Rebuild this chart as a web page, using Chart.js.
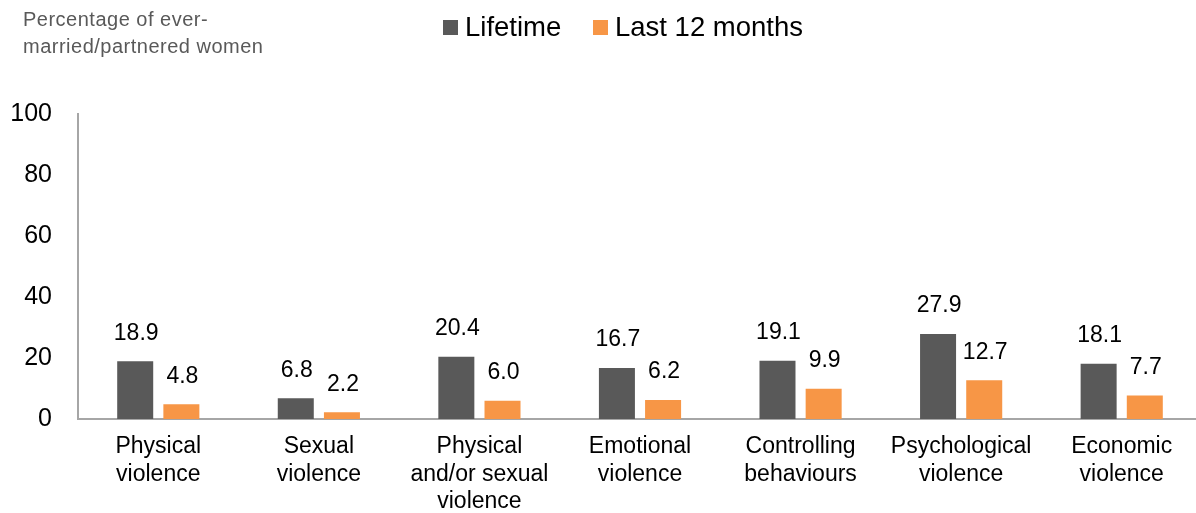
<!DOCTYPE html>
<html>
<head>
<meta charset="utf-8">
<script src="https://cdn.jsdelivr.net/npm/chart.js@4.4.1/dist/chart.umd.min.js"></script>
<style>
  html, body { margin: 0; padding: 0; background: #fff; overflow: hidden; }
  #wrap { position: relative; width: 1202px; height: 513px; }
  #title { position: absolute; left: 23px; top: 6px; font: 20px "Liberation Sans", Arial, sans-serif; letter-spacing: 0.5px; color: #595959; line-height: 27px; }
  .leg { position: absolute; top: 10px; font: 27.5px "Liberation Sans", Arial, sans-serif; color: #000; line-height: 34px; }
  .sw { position: absolute; width: 15px; height: 15px; top: 10px; }
</style>
</head>
<body>
<div id="wrap">
  <canvas id="c"></canvas>
  <div id="title">Percentage of ever-<br>married/partnered women</div>
  <div class="sw" style="left:443px; top:20px; background:#595959;"></div>
  <div class="leg" style="left:465px;">Lifetime</div>
  <div class="sw" style="left:593px; top:20px; background:#F79646;"></div>
  <div class="leg" style="left:615px;">Last 12 months</div>
</div>
<script>
const categories = [
  ["Physical", "violence"],
  ["Sexual", "violence"],
  ["Physical", "and/or sexual", "violence"],
  ["Emotional", "violence"],
  ["Controlling", "behaviours"],
  ["Psychological", "violence"],
  ["Economic", "violence"]
];
const lifetime = [18.9, 6.8, 20.4, 16.7, 19.1, 27.9, 18.1];
const last12 = [4.8, 2.2, 6.0, 6.2, 9.9, 12.7, 7.7];
const yTicks = [0, 20, 40, 60, 80, 100];

const FONT = "'Liberation Sans', Arial, sans-serif";

const valueLabels = {
  id: 'valueLabels',
  afterDatasetsDraw(chart) {
    const ctx = chart.ctx;
    ctx.save();
    ctx.font = '23px ' + FONT;
    ctx.fillStyle = '#000';
    ctx.textAlign = 'center';
    ctx.textBaseline = 'middle';
    chart.data.datasets.forEach((ds, i) => {
      const meta = chart.getDatasetMeta(i);
      meta.data.forEach((bar, j) => {
        ctx.fillText(ds.data[j].toFixed(1), bar.x + 1, bar.y - 28);
      });
    });
    ctx.restore();
  }
};

new Chart(document.getElementById('c'), {
  type: 'bar',
  data: {
    labels: categories,
    datasets: [
      { label: 'Lifetime', data: lifetime, backgroundColor: '#595959', categoryPercentage: 0.575, barPercentage: 0.78 },
      { label: 'Last 12 months', data: last12, backgroundColor: '#F79646', categoryPercentage: 0.575, barPercentage: 0.78 }
    ]
  },
  options: {
    responsive: true,
    maintainAspectRatio: false,
    animation: false,
    layout: { padding: { top: 114, left: 10, right: 0, bottom: 0 } },
    plugins: { legend: { display: false }, tooltip: { enabled: false } },
    scales: {
      x: {
        grid: { display: false, drawTicks: false },
        border: { display: true, color: '#A6A6A6', width: 2 },
        ticks: { color: '#000', font: { size: 23, family: FONT, lineHeight: 1.2 }, padding: 14, maxRotation: 0, autoSkip: false },
        afterFit(scale) { scale.height = 94; }
      },
      y: {
        min: 0, max: 100,
        afterBuildTicks(scale) { scale.ticks = yTicks.map(v => ({ value: v })); },
        grid: { display: false, drawTicks: false },
        border: { display: true, color: '#A6A6A6', width: 2 },
        ticks: { color: '#000', font: { size: 25, family: FONT }, padding: 26 },
        afterFit(scale) { scale.width = 68; }
      }
    }
  },
  plugins: [valueLabels]
});
</script>
</body>
</html>
